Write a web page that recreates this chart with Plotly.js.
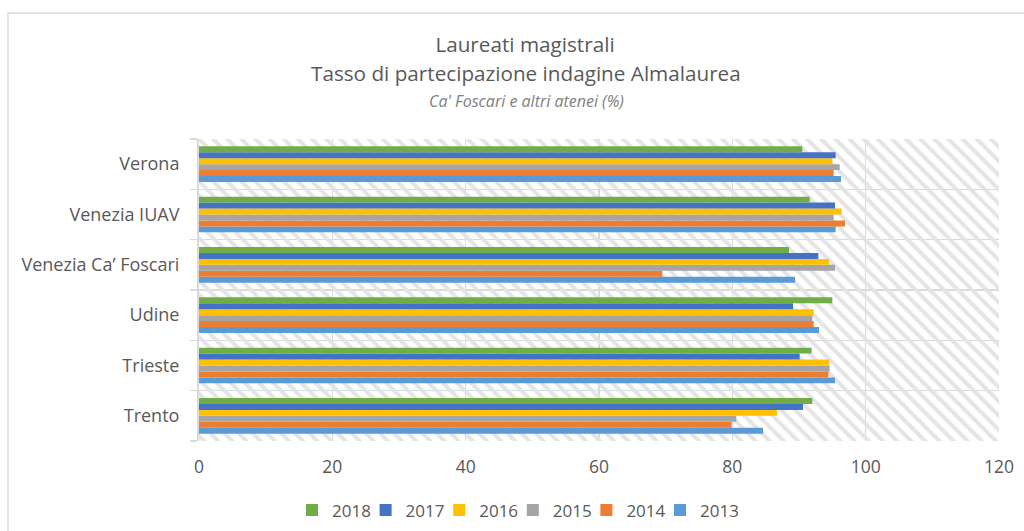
<!DOCTYPE html>
<html>
<head>
<meta charset="utf-8">
<script src="https://cdn.plot.ly/plotly-3.0.1.min.js"></script>
<style>html,body{margin:0;padding:0;background:#fff;}#chart{width:1024px;height:531px;}</style>
</head>
<body>
<div id="chart"></div>
<script>
const categories = ['Trento', 'Trieste', 'Udine', 'Venezia Ca’ Foscari', 'Venezia IUAV', 'Verona'];
const years = ['2013', '2014', '2015', '2016', '2017', '2018'];
const v2013 = [84.6, 95.4, 93.0, 89.4, 95.5, 96.3];
const v2014 = [79.9, 94.4, 92.2, 69.5, 96.9, 95.2];
const v2015 = [80.6, 94.6, 92.0, 95.4, 95.2, 96.1];
const v2016 = [86.7, 94.5, 92.2, 94.5, 96.4, 95.0];
const v2017 = [90.6, 90.1, 89.1, 92.9, 95.4, 95.5];
const v2018 = [92.0, 91.9, 95.0, 88.5, 91.6, 90.5];
const xTicks = [0, 20, 40, 60, 80, 100, 120];
const xMax = 120;

const seriesValues = [v2013, v2014, v2015, v2016, v2017, v2018];
const colors = ['#5B9BD5', '#ED7D31', '#A5A5A5', '#FFC000', '#4472C4', '#70AD47'];

const textColor = '#595959';
const gridColor = '#d9d9d9';
const FONT = "'Open Sans', sans-serif";

// hatched background band per category (on base axis, drawn beneath data)
const bg = {
  type: 'bar', orientation: 'h', y: categories, x: categories.map(() => xMax),
  width: 1, xaxis: 'x', yaxis: 'y', showlegend: false, hoverinfo: 'skip',
  marker: { color: 'rgba(0,0,0,0)', line: { width: 0 },
    pattern: { shape: '\\', fgcolor: '#e4e4e4', bgcolor: 'rgba(0,0,0,0)', size: 10, solidity: 0.4 } }
};

// legend slots: 2018 first (leftmost) ... 2013 last
const legendIds = ['legend6', 'legend5', 'legend4', 'legend3', 'legend2', 'legend'];

const traces = [bg];
years.forEach((yr, i) => {
  traces.push({
    type: 'bar', orientation: 'h', name: yr, y: categories, x: seriesValues[i],
    xaxis: 'x', yaxis: 'y2', legend: legendIds[i],
    marker: { color: colors[i], line: { width: 0 } },
    hovertemplate: '%{y}<br>' + yr + ': %{x}<extra></extra>'
  });
});

const L = 199, R = 25, T = 139, B = 90;
const PW = 1024 - L - R, PH = 531 - T - B;
const px2x = p => (p - L) / PW;
const px2y = p => (531 - B - p) / PH;

const yAxisCommon = {
  type: 'category', categoryorder: 'array', categoryarray: categories,
  range: [-0.5, categories.length - 0.5], fixedrange: true, automargin: false
};

const layout = {
  width: 1024, height: 531,
  margin: { l: L, r: R, t: T, b: B, pad: 0, autoexpand: false },
  paper_bgcolor: '#ffffff', plot_bgcolor: '#ffffff',
  font: { family: FONT, color: textColor, size: 17.5 },
  barmode: 'group', bargap: 0.29, bargroupgap: 0,
  title: {
    text: 'Laureati magistrali',
    font: { family: FONT, size: 20.7, color: textColor },
    x: 525 / 1024, xanchor: 'center', xref: 'container',
    y: 1 - 44.5 / 531, yanchor: 'middle', yref: 'container'
  },
  annotations: [
    { text: 'Tasso di partecipazione indagine Almalaurea', xref: 'paper', yref: 'paper',
      x: px2x(526), y: px2y(73.5), xanchor: 'center', yanchor: 'middle', showarrow: false,
      font: { family: FONT, size: 20.7, color: textColor } },
    { text: "<i>Ca' Foscari e altri atenei (%)</i>", xref: 'paper', yref: 'paper',
      x: px2x(526), y: px2y(100.5), xanchor: 'center', yanchor: 'middle', showarrow: false,
      font: { family: FONT, size: 16, color: '#808080' } }
  ],
  xaxis: {
    range: [0, xMax], tickvals: xTicks, ticktext: xTicks.map(String),
    showgrid: true, gridcolor: gridColor, gridwidth: 1.3, automargin: false,
    zeroline: false, showline: false, ticks: '', ticklabelstandoff: 13,
    tickfont: { family: FONT, size: 17.5, color: textColor }, fixedrange: true
  },
  yaxis: Object.assign({}, yAxisCommon, {
    showgrid: true, gridcolor: gridColor, gridwidth: 1.3, tickson: 'boundaries',
    ticks: 'outside', ticklen: 7, tickcolor: gridColor, tickwidth: 1.3,
    showline: true, linecolor: gridColor, linewidth: 2, zeroline: false,
    ticklabelstandoff: 14,
    tickfont: { family: FONT, size: 18, color: textColor }
  }),
  yaxis2: Object.assign({}, yAxisCommon, {
    overlaying: 'y', showgrid: false, showticklabels: false, ticks: '', showline: false, zeroline: false
  }),
  shapes: [
    { type: 'path', xref: 'paper', yref: 'paper', layer: 'below',
      path: 'M ' + px2x(8) + ' ' + px2y(545) + ' L ' + px2x(8) + ' ' + px2y(13) + ' L ' + px2x(1040) + ' ' + px2y(13),
      line: { color: gridColor, width: 1.3 } }
  ],
  showlegend: true
};

// one legend per series, placed side by side like the reference
legendIds.slice().reverse().forEach((id, k) => {
  const textStart = 332 + 73.6 * k;
  layout[id] = {
    orientation: 'h',
    xref: 'container', x: (textStart - 40) / 1024, xanchor: 'left',
    yref: 'container', y: 1 - 510.5 / 531, yanchor: 'middle',
    font: { family: FONT, size: 17, color: textColor },
    bgcolor: 'rgba(0,0,0,0)', borderwidth: 0,
    itemclick: false, itemdoubleclick: false
  };
});

Plotly.newPlot('chart', traces, layout, { displayModeBar: false, staticPlot: true });
</script>
</body>
</html>
